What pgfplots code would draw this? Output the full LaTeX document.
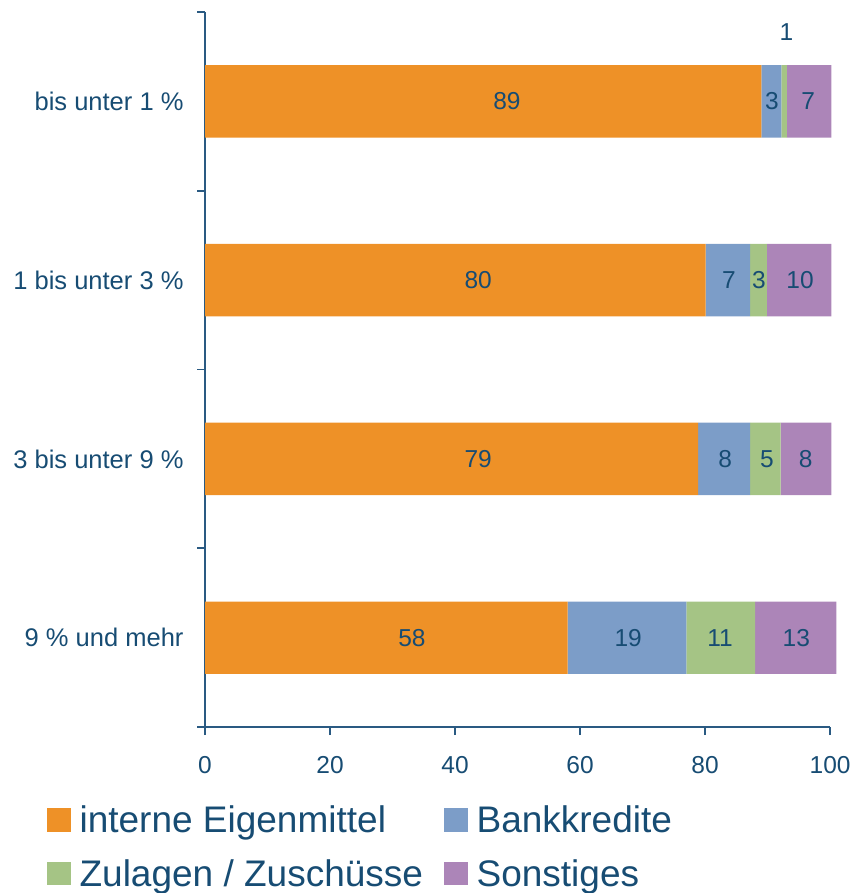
\documentclass[border=0pt]{standalone}
\usepackage{pgfplots}
\pgfplotsset{compat=1.18}
\usepackage{fontspec}
\setmainfont{Liberation Sans}
\definecolor{cOrange}{HTML}{EE9127}
\definecolor{cBlue}{HTML}{7C9DC8}
\definecolor{cGreen}{HTML}{A5C485}
\definecolor{cPurple}{HTML}{AC85B8}
\definecolor{cText}{HTML}{174C73}
\definecolor{cAxis}{HTML}{2A5A82}
\pgfplotsset{
  sq/.style={legend image code/.code={\fill[##1,draw=none] (0pt,-11.8pt) rectangle (23.5pt,11.8pt);}},
}
\begin{document}
\begin{tikzpicture}
\begin{axis}[
  name=main,
  scale only axis, width=625pt, height=715pt,
  xbar stacked, bar width=0.405,
  xmin=0, xmax=100, ymin=-0.5, ymax=3.5,
  clip=false,
  axis x line*=bottom, axis y line*=left,
  axis line style={cAxis, line width=1.8pt},
  xtick={0,20,...,100},
  ytick={-0.5,0.5,1.5,2.5,3.5}, yticklabels={},
  extra y ticks={0,1,2,3},
  extra y tick labels={9 \% und mehr,3 bis unter 9 \%,1 bis unter 3 \%,bis unter 1 \%},
  extra y tick style={tick style={draw=none}, yticklabel style={xshift=-10pt, font=\fontsize{25.5}{30}\selectfont}},
  tick align=outside, major tick length=8pt,
  tick style={cAxis, line width=1.8pt},
  /pgf/number format/assume math mode=true,
  ticklabel style={font=\fontsize{24.5}{28}\selectfont, text=cText},
  xticklabel style={yshift=-18pt},
  legend columns=2,
  legend cell align=left,
  legend style={draw=none, fill=none, at={(-0.253,-0.110)}, anchor=north west,
    inner sep=0pt, font=\fontsize{37}{42}\selectfont, text=cText,
    nodes={inner xsep=9pt, inner ysep=0pt},
    row sep=25pt,
    /tikz/every even column/.append style={column sep=12pt}},
]
\addplot[fill=cOrange, draw=none, sq] coordinates {(89,3) (80.1,2) (78.9,1) (58,0)};
\addlegendentry{interne Eigenmittel}
\addplot[fill=cBlue, draw=none, sq] coordinates {(3.2,3) (7.1,2) (8.3,1) (19,0)};
\addlegendentry{Bankkredite}
\addplot[fill=cGreen, draw=none, sq] coordinates {(0.9,3) (2.7,2) (4.9,1) (11,0)};
\addlegendentry{Zulagen / Zuschüsse}
\addplot[fill=cPurple, draw=none, sq] coordinates {(7.1,3) (10.3,2) (8.1,1) (13,0)};
\addlegendentry{Sonstiges}
\path[draw=none] (rel axis cs:-0.328,-0.232) rectangle (rel axis cs:1.0384,1.0168);
\end{axis}
\begin{axis}[
  scale only axis, width=625pt, height=715pt,
  xmin=0, xmax=100, ymin=-0.5, ymax=3.5,
  hide axis, clip=false,
]
\addplot[draw=none, mark=none, nodes near coords, point meta=explicit symbolic,
  every node near coord/.append style={anchor=center, font=\fontsize{24.5}{28}\selectfont, text=cText}]
  coordinates {
  (48.3,3)[89] (90.7,3)[3] (93.0,3.388)[1] (96.5,3)[7]
  (43.7,2)[80] (83.8,2)[7] (88.6,2)[3] (95.2,2)[10]
  (43.7,1)[79] (83.2,1)[8] (89.9,1)[5] (96.1,1)[8]
  (33.1,0)[58] (67.7,0)[19] (82.4,0)[11] (94.6,0)[13]
  };
\end{axis}
\end{tikzpicture}
\end{document}
